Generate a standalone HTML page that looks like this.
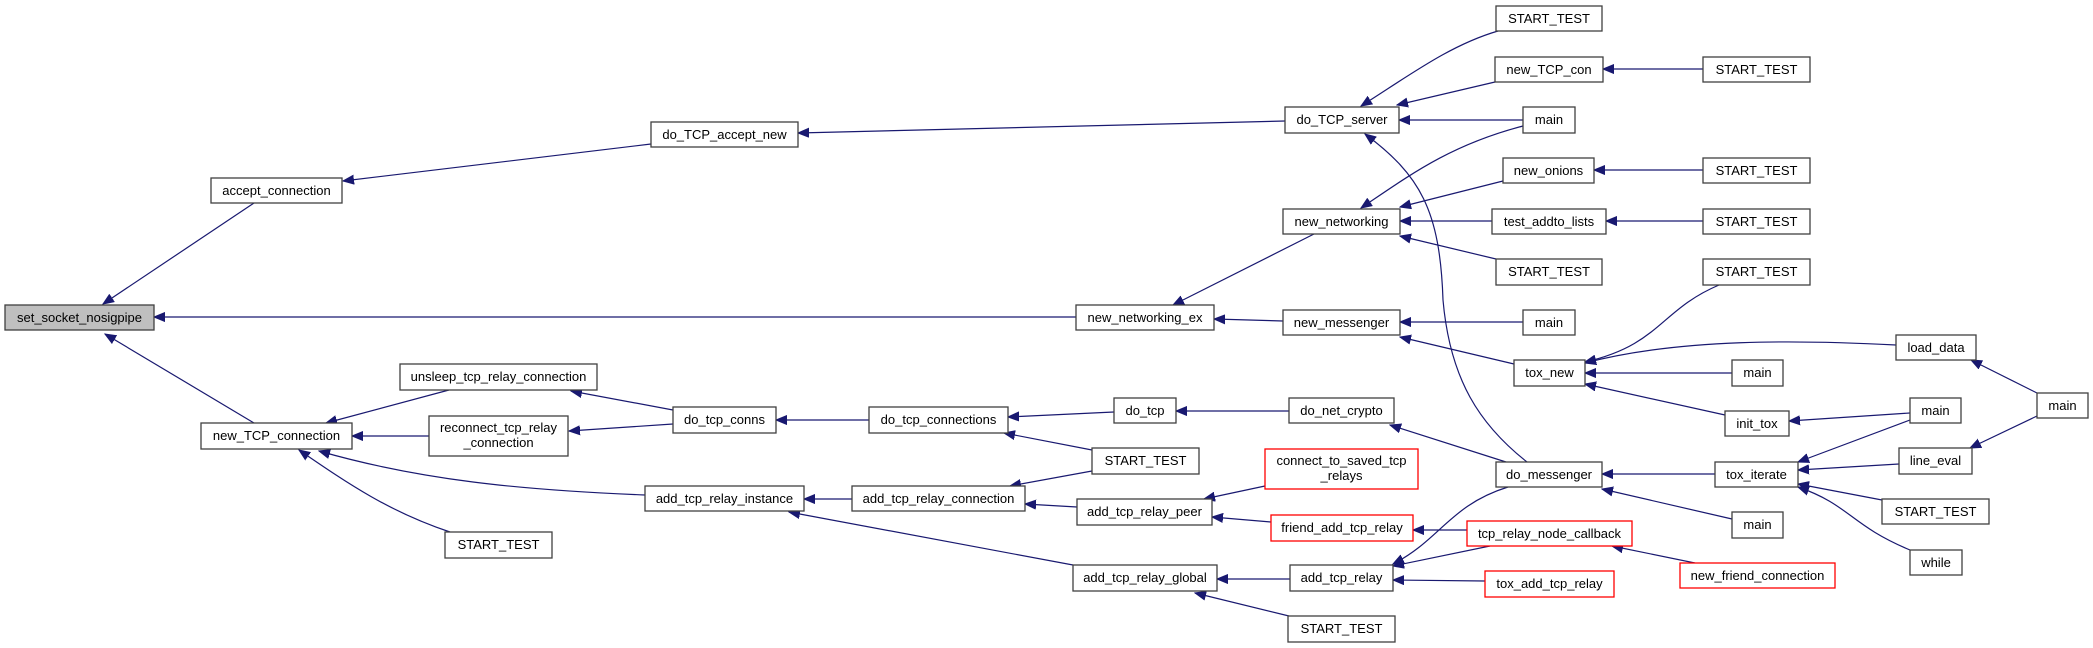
<!DOCTYPE html>
<html><head><meta charset="utf-8"><style>
html,body{margin:0;padding:0;background:#fff;width:2093px;height:648px;overflow:hidden}
svg text{font-family:"Liberation Sans",Helvetica,Arial,sans-serif;font-size:13px;fill:#000;text-anchor:middle}
.n{fill:#fff;stroke:#404040;stroke-width:1.3}
.r{fill:#fff;stroke:#ff0000;stroke-width:1.3}
.e{fill:none;stroke:#191970;stroke-width:1.2;marker-end:url(#a)}
</style></head><body>
<svg width="2093" height="648" viewBox="0 0 2093 648" xmlns="http://www.w3.org/2000/svg">
<defs><marker id="a" markerUnits="userSpaceOnUse" markerWidth="12" markerHeight="10" refX="11" refY="5" orient="auto"><path d="M0,0.5 L11,5 L0,9.5 z" fill="#191970" stroke="#191970"/></marker></defs>
<!-- edges -->
<path class="e" d="M254,203 L103,304"/>
<path class="e" d="M1076,317 L154,317"/>
<path class="e" d="M254,423 L105,334"/>
<path class="e" d="M651,144 L343,181"/>
<path class="e" d="M449,390 L326,423"/>
<path class="e" d="M429,436 L352,436"/>
<path class="e" d="M645,495 C520,490 420,480 319,451"/>
<path class="e" d="M450,532 C390,512 350,485 299,450"/>
<path class="e" d="M673,410 L571,391"/>
<path class="e" d="M673,424 L569,431"/>
<path class="e" d="M1285,121 L798,133"/>
<path class="e" d="M869,420 L776,420"/>
<path class="e" d="M852,499 L804,499"/>
<path class="e" d="M1073,565 L789,512"/>
<path class="e" d="M1314,234 L1173,305"/>
<path class="e" d="M1283,321 L1214,319"/>
<path class="e" d="M1114,412 L1008,417"/>
<path class="e" d="M1092,450 L1004,433"/>
<path class="e" d="M1092,471 L1010,486"/>
<path class="e" d="M1077,507 L1025,504"/>
<path class="e" d="M1289,411 L1176,411"/>
<path class="e" d="M1265,486 L1204,499"/>
<path class="e" d="M1271,522 L1212,517"/>
<path class="e" d="M1290,579 L1217,579"/>
<path class="e" d="M1289,616 L1195,593"/>
<path class="e" d="M1498,31 C1450,45 1410,75 1361,106"/>
<path class="e" d="M1495,82 L1397,105"/>
<path class="e" d="M1523,120 L1399,120"/>
<path class="e" d="M1527,462 C1480,425 1450,380 1443,300 C1440,210 1420,175 1365,134"/>
<path class="e" d="M1523,126 C1450,145 1410,175 1361,208"/>
<path class="e" d="M1503,181 L1400,207"/>
<path class="e" d="M1492,221 L1400,221"/>
<path class="e" d="M1496,259 L1400,236"/>
<path class="e" d="M1703,69 L1603,69"/>
<path class="e" d="M1703,170 L1594,170"/>
<path class="e" d="M1703,221 L1606,221"/>
<path class="e" d="M1523,322 L1400,322"/>
<path class="e" d="M1514,364 L1400,337"/>
<path class="e" d="M1719,285 C1660,310 1660,345 1585,362"/>
<path class="e" d="M1896,345 C1800,340 1680,338 1585,363"/>
<path class="e" d="M1732,373 L1585,373"/>
<path class="e" d="M1725,415 L1585,384"/>
<path class="e" d="M2037,393 L1971,360"/>
<path class="e" d="M2037,416 L1970,448"/>
<path class="e" d="M1910,413 L1789,421"/>
<path class="e" d="M1910,420 L1798,462"/>
<path class="e" d="M1899,464 L1798,470"/>
<path class="e" d="M1882,500 L1798,484"/>
<path class="e" d="M1910,550 C1850,525 1850,505 1798,487"/>
<path class="e" d="M1506,462 L1390,425"/>
<path class="e" d="M1715,474 L1602,474"/>
<path class="e" d="M1732,519 L1602,489"/>
<path class="e" d="M1508,487 C1450,505 1440,540 1393,564"/>
<path class="e" d="M1490,546 L1393,566"/>
<path class="e" d="M1467,530 L1413,530"/>
<path class="e" d="M1485,581 L1393,580"/>
<path class="e" d="M1695,563 L1612,546"/>
<!-- nodes -->
<rect x="5" y="305" width="149" height="25" fill="#bfbfbf" stroke="#404040" stroke-width="1.3"/><text x="79.5" y="322">set_socket_nosigpipe</text>
<rect class="n" x="211" y="178" width="131" height="25"/><text x="276.5" y="195">accept_connection</text>
<rect class="n" x="201" y="423" width="151" height="26"/><text x="276.5" y="440">new_TCP_connection</text>
<rect class="n" x="400" y="364" width="197" height="26"/><text x="498.5" y="381">unsleep_tcp_relay_connection</text>
<rect class="n" x="429" y="416" width="139" height="40"/><text x="498.5" y="432">reconnect_tcp_relay</text><text x="498.5" y="447">_connection</text>
<rect class="n" x="445" y="532" width="107" height="26"/><text x="498.5" y="549">START_TEST</text>
<rect class="n" x="651" y="122" width="147" height="25"/><text x="724.5" y="139">do_TCP_accept_new</text>
<rect class="n" x="673" y="407" width="103" height="26"/><text x="724.5" y="424">do_tcp_conns</text>
<rect class="n" x="645" y="486" width="159" height="25"/><text x="724.5" y="503">add_tcp_relay_instance</text>
<rect class="n" x="1285" y="107" width="114" height="26"/><text x="1342" y="124">do_TCP_server</text>
<rect class="n" x="1283" y="209" width="117" height="25"/><text x="1341.5" y="226">new_networking</text>
<rect class="n" x="1076" y="305" width="138" height="25"/><text x="1145" y="322">new_networking_ex</text>
<rect class="n" x="1283" y="310" width="117" height="25"/><text x="1341.5" y="327">new_messenger</text>
<rect class="n" x="869" y="407" width="139" height="26"/><text x="938.5" y="424">do_tcp_connections</text>
<rect class="n" x="1114" y="398" width="62" height="25"/><text x="1145" y="415">do_tcp</text>
<rect class="n" x="1289" y="398" width="105" height="25"/><text x="1341.5" y="415">do_net_crypto</text>
<rect class="n" x="1092" y="448" width="107" height="26"/><text x="1145.5" y="465">START_TEST</text>
<rect class="n" x="852" y="486" width="173" height="25"/><text x="938.5" y="503">add_tcp_relay_connection</text>
<rect class="n" x="1077" y="499" width="135" height="26"/><text x="1144.5" y="516">add_tcp_relay_peer</text>
<rect class="r" x="1265" y="449" width="153" height="40"/><text x="1341.5" y="465">connect_to_saved_tcp</text><text x="1341.5" y="480">_relays</text>
<rect class="r" x="1271" y="515" width="142" height="26"/><text x="1342" y="532">friend_add_tcp_relay</text>
<rect class="n" x="1073" y="565" width="144" height="26"/><text x="1145" y="582">add_tcp_relay_global</text>
<rect class="n" x="1290" y="565" width="103" height="26"/><text x="1341.5" y="582">add_tcp_relay</text>
<rect class="n" x="1288" y="616" width="107" height="26"/><text x="1341.5" y="633">START_TEST</text>
<rect class="n" x="1496" y="6" width="106" height="25"/><text x="1549" y="23">START_TEST</text>
<rect class="n" x="1495" y="57" width="108" height="25"/><text x="1549" y="74">new_TCP_con</text>
<rect class="n" x="1703" y="57" width="107" height="25"/><text x="1756.5" y="74">START_TEST</text>
<rect class="n" x="1523" y="107" width="52" height="26"/><text x="1549" y="124">main</text>
<rect class="n" x="1503" y="158" width="91" height="25"/><text x="1548.5" y="175">new_onions</text>
<rect class="n" x="1703" y="158" width="107" height="25"/><text x="1756.5" y="175">START_TEST</text>
<rect class="n" x="1492" y="209" width="114" height="25"/><text x="1549" y="226">test_addto_lists</text>
<rect class="n" x="1703" y="209" width="107" height="25"/><text x="1756.5" y="226">START_TEST</text>
<rect class="n" x="1496" y="259" width="106" height="26"/><text x="1549" y="276">START_TEST</text>
<rect class="n" x="1703" y="259" width="107" height="26"/><text x="1756.5" y="276">START_TEST</text>
<rect class="n" x="1523" y="310" width="52" height="25"/><text x="1549" y="327">main</text>
<rect class="n" x="1514" y="360" width="71" height="26"/><text x="1549.5" y="377">tox_new</text>
<rect class="n" x="1896" y="335" width="80" height="25"/><text x="1936" y="352">load_data</text>
<rect class="n" x="1732" y="360" width="51" height="26"/><text x="1757.5" y="377">main</text>
<rect class="n" x="1725" y="411" width="64" height="25"/><text x="1757" y="428">init_tox</text>
<rect class="n" x="2037" y="393" width="51" height="25"/><text x="2062.5" y="410">main</text>
<rect class="n" x="1910" y="398" width="51" height="25"/><text x="1935.5" y="415">main</text>
<rect class="n" x="1899" y="448" width="73" height="26"/><text x="1935.5" y="465">line_eval</text>
<rect class="n" x="1715" y="462" width="83" height="25"/><text x="1756.5" y="479">tox_iterate</text>
<rect class="n" x="1496" y="462" width="106" height="25"/><text x="1549" y="479">do_messenger</text>
<rect class="n" x="1882" y="499" width="107" height="25"/><text x="1935.5" y="516">START_TEST</text>
<rect class="n" x="1910" y="550" width="52" height="25"/><text x="1936" y="567">while</text>
<rect class="n" x="1732" y="512" width="51" height="26"/><text x="1757.5" y="529">main</text>
<rect class="r" x="1467" y="521" width="165" height="25"/><text x="1549.5" y="538">tcp_relay_node_callback</text>
<rect class="r" x="1485" y="571" width="129" height="26"/><text x="1549.5" y="588">tox_add_tcp_relay</text>
<rect class="r" x="1680" y="563" width="155" height="25"/><text x="1757.5" y="580">new_friend_connection</text>
</svg>
</body></html>
